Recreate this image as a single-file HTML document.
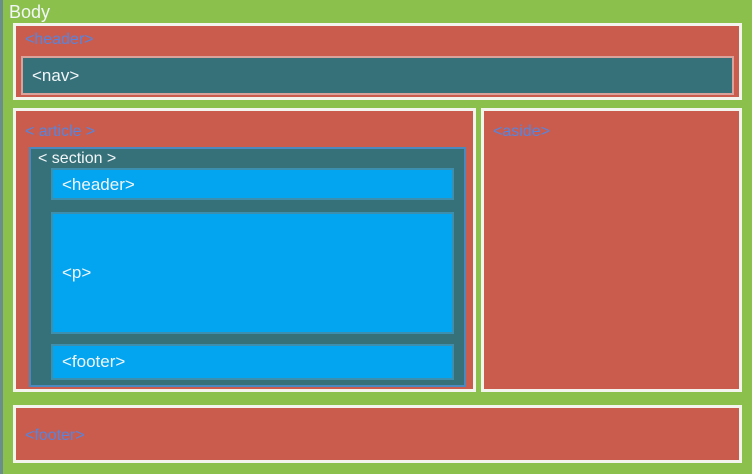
<!DOCTYPE html>
<html><head><meta charset="utf-8"><style>
body{margin:0;width:752px;height:474px;background:#8cc04c;position:relative;overflow:hidden;font-family:"Liberation Sans",sans-serif}
.b{position:absolute;box-sizing:border-box}
.red{background:#c95c4c;border:3px solid #f4f4ee}
.teal{background:#36717a}
.blue{background:#03a5f0;border:2px solid #3d8fb0}
.t{position:absolute;font-size:16px;white-space:nowrap}
.lb{color:#5585e0}
.w{color:#f2f6f8}
</style></head><body>
<div class="b" style="left:0;top:0;width:3px;height:474px;background:#6a8f8a"></div>
<div class="t w" style="left:9px;top:2px;font-size:18px">Body</div>

<div class="b red" style="left:13px;top:23px;width:729px;height:77px">
 <div class="t lb" style="left:9px;top:5px">&lt;header&gt;</div>
 <div class="b teal" style="left:5px;top:30px;width:713px;height:39px;border:2px solid #d9a29a">
  <div class="t w" style="left:9px;top:8px;font-size:17px">&lt;nav&gt;</div>
 </div>
</div>

<div class="b red" style="left:13px;top:108px;width:463px;height:284px">
 <div class="t lb" style="left:9px;top:12px">&lt; article &gt;</div>
 <div class="b teal" style="left:13px;top:36px;width:437px;height:240px;border:2px solid #4a88c0">
  <div class="t w" style="left:7px;top:1px">&lt; section &gt;</div>
  <div class="b blue" style="left:20px;top:19px;width:403px;height:32px">
   <div class="t w" style="left:9px;top:5px;font-size:17px">&lt;header&gt;</div>
  </div>
  <div class="b blue" style="left:20px;top:63px;width:403px;height:122px">
   <div class="t w" style="left:9px;top:49px;font-size:17px">&lt;p&gt;</div>
  </div>
  <div class="b blue" style="left:20px;top:195px;width:403px;height:36px">
   <div class="t w" style="left:9px;top:6px;font-size:17px">&lt;footer&gt;</div>
  </div>
 </div>
</div>

<div class="b red" style="left:481px;top:108px;width:261px;height:284px">
 <div class="t lb" style="left:9px;top:12px">&lt;aside&gt;</div>
</div>

<div class="b red" style="left:13px;top:405px;width:729px;height:58px">
 <div class="t lb" style="left:9px;top:19px">&lt;footer&gt;</div>
</div>
</body></html>
